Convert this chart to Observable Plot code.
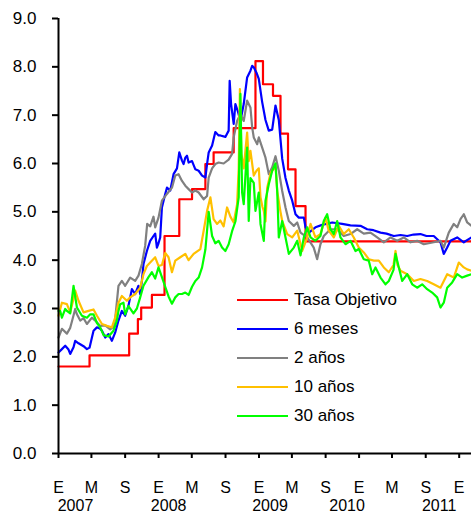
<!DOCTYPE html>
<html><head><meta charset="utf-8">
<script src="https://cdn.jsdelivr.net/npm/d3@7"></script>
<script src="https://cdn.jsdelivr.net/npm/@observablehq/plot@0.6"></script>
<style>
body{margin:0;background:#fff}
#wrap{position:relative;width:471px;height:513px;font-family:'Liberation Sans',Arial,sans-serif}
.row{position:absolute;left:237px;height:20px;display:flex;align-items:center;font-size:17px;color:#000;white-space:nowrap}
.sw{display:inline-block;width:51px;height:2px;margin-right:6px}
</style></head>
<body><div id="wrap"></div>
<script>
// decimal year, value
const tasaObjetivo = [[2007.000,1.80],[2007.310,2.03],[2007.706,2.48],[2007.793,2.78],[2007.826,3.02],[2007.933,3.28],[2008.059,4.50],[2008.206,5.26],[2008.333,5.47],[2008.466,5.99],[2008.548,6.23],[2008.748,6.73],[2008.965,8.12],[2009.040,7.64],[2009.140,7.40],[2009.215,6.62],[2009.290,5.88],[2009.365,5.12],[2009.465,4.39],[2011.123,4.39]];
const seisMeses = [[2007.000,2.09],[2007.034,2.16],[2007.067,2.23],[2007.100,2.15],[2007.117,2.06],[2007.150,2.20],[2007.167,2.33],[2007.200,2.28],[2007.217,2.26],[2007.250,2.22],[2007.284,2.16],[2007.310,2.19],[2007.334,2.40],[2007.350,2.54],[2007.384,2.61],[2007.417,2.58],[2007.434,2.54],[2007.467,2.40],[2007.500,2.47],[2007.533,2.33],[2007.566,2.50],[2007.599,2.75],[2007.633,2.95],[2007.666,2.85],[2007.699,3.06],[2007.733,3.40],[2007.766,3.30],[2007.799,3.47],[2007.816,3.30],[2007.833,3.57],[2007.849,3.92],[2007.883,4.19],[2007.916,4.40],[2007.949,4.50],[2007.966,4.55],[2007.983,4.26],[2007.999,4.35],[2008.016,4.47],[2008.033,5.09],[2008.066,5.37],[2008.083,5.50],[2008.116,5.44],[2008.149,5.78],[2008.183,5.90],[2008.206,6.23],[2008.233,6.06],[2008.249,5.99],[2008.266,6.12],[2008.283,6.16],[2008.299,6.02],[2008.333,6.05],[2008.366,5.88],[2008.399,5.85],[2008.433,5.75],[2008.466,5.71],[2008.483,5.99],[2008.499,6.23],[2008.533,6.37],[2008.565,6.65],[2008.598,6.58],[2008.615,6.58],[2008.665,6.55],[2008.698,6.68],[2008.708,7.71],[2008.722,7.23],[2008.748,6.82],[2008.765,7.23],[2008.788,7.09],[2008.815,6.88],[2008.848,7.23],[2008.882,7.78],[2008.915,7.92],[2008.932,8.02],[2008.948,7.99],[2008.975,7.88],[2008.998,7.75],[2009.032,7.27],[2009.065,6.90],[2009.098,6.68],[2009.132,6.70],[2009.165,7.20],[2009.198,6.90],[2009.232,6.10],[2009.265,5.70],[2009.298,5.44],[2009.332,5.23],[2009.365,4.95],[2009.398,4.88],[2009.448,4.88],[2009.465,4.68],[2009.498,4.57],[2009.564,4.68],[2009.631,4.73],[2009.731,4.78],[2009.831,4.75],[2009.914,4.72],[2010.014,4.71],[2010.081,4.64],[2010.144,4.62],[2010.214,4.57],[2010.274,4.55],[2010.347,4.50],[2010.414,4.52],[2010.481,4.50],[2010.544,4.53],[2010.613,4.54],[2010.673,4.50],[2010.746,4.50],[2010.813,4.37],[2010.846,4.13],[2010.880,4.26],[2010.913,4.40],[2010.980,4.47],[2011.046,4.37],[2011.083,4.42],[2011.123,4.47]];
const dosAnios = [[2007.000,2.40],[2007.034,2.58],[2007.084,2.48],[2007.117,2.60],[2007.134,2.73],[2007.167,2.99],[2007.184,2.88],[2007.217,2.75],[2007.250,2.80],[2007.284,2.68],[2007.334,2.81],[2007.367,2.75],[2007.417,2.64],[2007.467,2.65],[2007.516,2.57],[2007.549,2.62],[2007.566,2.78],[2007.599,3.47],[2007.633,3.57],[2007.666,3.47],[2007.716,3.64],[2007.766,3.57],[2007.799,3.68],[2007.833,3.92],[2007.866,4.30],[2007.886,4.75],[2007.916,4.70],[2007.949,4.90],[2007.966,4.68],[2007.999,4.88],[2008.033,5.23],[2008.083,5.37],[2008.133,5.50],[2008.166,5.75],[2008.199,5.78],[2008.233,5.64],[2008.266,5.54],[2008.299,5.47],[2008.333,5.40],[2008.366,5.44],[2008.399,5.40],[2008.449,5.26],[2008.483,5.33],[2008.499,5.71],[2008.533,5.90],[2008.565,5.99],[2008.598,6.02],[2008.648,6.00],[2008.698,6.08],[2008.732,6.20],[2008.748,6.54],[2008.782,6.88],[2008.815,7.02],[2008.848,6.88],[2008.882,7.30],[2008.915,7.16],[2008.932,6.75],[2008.948,6.54],[2008.982,6.40],[2008.998,6.54],[2009.032,6.33],[2009.065,6.12],[2009.098,5.78],[2009.132,5.92],[2009.165,6.15],[2009.198,5.85],[2009.232,5.43],[2009.265,5.09],[2009.298,4.81],[2009.348,4.71],[2009.382,4.78],[2009.415,4.57],[2009.482,4.47],[2009.547,4.26],[2009.581,4.02],[2009.614,4.33],[2009.647,4.50],[2009.714,4.64],[2009.781,4.64],[2009.847,4.50],[2009.914,4.54],[2009.981,4.64],[2010.047,4.55],[2010.114,4.57],[2010.181,4.47],[2010.247,4.37],[2010.314,4.47],[2010.381,4.40],[2010.447,4.47],[2010.514,4.37],[2010.580,4.40],[2010.646,4.33],[2010.746,4.37],[2010.813,4.40],[2010.846,4.26],[2010.896,4.57],[2010.946,4.75],[2010.980,4.68],[2011.013,4.85],[2011.046,4.95],[2011.080,4.78],[2011.123,4.71]];
const diezAnios = [[2007.000,2.85],[2007.034,3.12],[2007.084,3.09],[2007.117,2.92],[2007.150,3.20],[2007.167,3.37],[2007.200,3.16],[2007.250,2.92],[2007.300,2.95],[2007.350,2.98],[2007.384,2.85],[2007.434,2.68],[2007.484,2.64],[2007.533,2.61],[2007.566,2.81],[2007.599,3.12],[2007.633,3.26],[2007.683,3.16],[2007.716,3.23],[2007.766,3.30],[2007.816,3.43],[2007.849,3.71],[2007.883,3.88],[2007.916,3.95],[2007.966,4.06],[2007.999,3.88],[2008.033,3.90],[2008.066,4.15],[2008.099,4.06],[2008.133,3.75],[2008.166,3.99],[2008.216,4.06],[2008.266,4.13],[2008.299,4.00],[2008.349,4.13],[2008.416,4.23],[2008.449,4.61],[2008.483,5.02],[2008.516,5.30],[2008.548,4.85],[2008.582,4.75],[2008.615,4.82],[2008.648,4.70],[2008.682,5.09],[2008.715,4.90],[2008.748,4.78],[2008.782,5.16],[2008.798,5.90],[2008.810,7.54],[2008.825,6.20],[2008.848,5.90],[2008.882,6.64],[2008.898,6.05],[2008.915,6.26],[2008.948,5.75],[2008.975,5.85],[2008.998,5.90],[2009.015,5.30],[2009.035,5.10],[2009.048,5.02],[2009.065,4.80],[2009.082,5.50],[2009.115,5.80],[2009.132,5.85],[2009.165,5.95],[2009.182,5.43],[2009.215,5.00],[2009.232,4.81],[2009.282,4.54],[2009.332,4.47],[2009.382,4.61],[2009.432,4.19],[2009.482,4.47],[2009.515,4.75],[2009.564,4.47],[2009.614,4.54],[2009.664,4.88],[2009.697,4.61],[2009.747,4.47],[2009.797,4.71],[2009.847,4.54],[2009.897,4.64],[2009.947,4.47],[2009.997,4.26],[2010.047,4.16],[2010.097,4.02],[2010.147,3.99],[2010.197,3.99],[2010.247,3.85],[2010.297,3.75],[2010.344,3.90],[2010.364,4.19],[2010.384,3.90],[2010.414,3.78],[2010.481,3.71],[2010.547,3.57],[2010.613,3.61],[2010.680,3.57],[2010.746,3.50],[2010.813,3.43],[2010.880,3.71],[2010.946,3.64],[2010.996,3.95],[2011.046,3.85],[2011.080,3.81],[2011.123,3.78]];
const treintaAnios = [[2007.000,2.95],[2007.017,2.95],[2007.034,2.81],[2007.067,2.99],[2007.084,2.95],[2007.117,2.90],[2007.150,3.47],[2007.184,3.02],[2007.234,2.85],[2007.284,2.81],[2007.317,2.88],[2007.350,2.88],[2007.384,2.70],[2007.417,2.61],[2007.450,2.45],[2007.500,2.42],[2007.549,2.54],[2007.583,2.75],[2007.599,2.95],[2007.616,3.09],[2007.649,3.12],[2007.666,2.88],[2007.699,3.05],[2007.749,2.90],[2007.783,3.00],[2007.816,3.23],[2007.849,3.47],[2007.899,3.65],[2007.933,3.75],[2007.966,3.62],[2007.999,3.85],[2008.033,3.65],[2008.066,3.45],[2008.099,3.25],[2008.133,3.10],[2008.166,3.23],[2008.199,3.30],[2008.233,3.30],[2008.266,3.33],[2008.299,3.28],[2008.333,3.45],[2008.366,3.57],[2008.399,3.64],[2008.433,3.85],[2008.466,4.22],[2008.499,5.00],[2008.533,4.50],[2008.565,4.35],[2008.598,4.40],[2008.632,4.26],[2008.665,4.19],[2008.698,4.33],[2008.732,4.60],[2008.765,4.80],[2008.798,5.30],[2008.815,7.44],[2008.832,5.40],[2008.848,5.16],[2008.882,6.33],[2008.898,4.81],[2008.915,5.70],[2008.948,5.60],[2008.965,5.02],[2008.998,5.40],[2009.015,4.75],[2009.048,4.40],[2009.065,5.23],[2009.098,5.57],[2009.132,5.85],[2009.165,6.00],[2009.182,5.43],[2009.198,4.47],[2009.232,4.81],[2009.265,4.47],[2009.298,4.13],[2009.348,4.26],[2009.382,4.40],[2009.415,4.10],[2009.448,4.47],[2009.482,4.68],[2009.515,4.47],[2009.564,4.40],[2009.614,4.50],[2009.647,4.81],[2009.681,4.95],[2009.714,4.64],[2009.747,4.54],[2009.781,4.81],[2009.814,4.47],[2009.864,4.33],[2009.914,4.40],[2009.964,4.19],[2009.997,4.23],[2010.047,4.02],[2010.097,3.99],[2010.131,3.71],[2010.164,3.85],[2010.214,3.64],[2010.264,3.50],[2010.297,3.57],[2010.344,3.80],[2010.364,4.13],[2010.397,3.85],[2010.431,3.57],[2010.481,3.71],[2010.531,3.50],[2010.580,3.43],[2010.630,3.50],[2010.680,3.40],[2010.730,3.33],[2010.780,3.23],[2010.813,3.02],[2010.846,3.12],[2010.880,3.43],[2010.930,3.54],[2010.980,3.71],[2011.030,3.64],[2011.080,3.68],[2011.123,3.71]];

const seriesNames = ["Tasa Objetivo","6 meses","2 años","10 años","30 años"];
const seriesColors = ["#ff0000","#0000ff","#808080","#ffc000","#00ff00"];
const yTicks = [0,1,2,3,4,5,6,7,8,9];
const monthLetters = {0:"E",4:"M",8:"S"};
const yearLabels = ["2007","2008","2009","2010","2011"];
const yearLabelPos = [2007.17, 2008.10, 2009.11, 2009.88, 2010.80];
const xStart = 2007.0, xEnd = 2011.123;

const toDate = t => { const y = Math.floor(t), f = t - y; const s = Date.UTC(y,0,1), e = Date.UTC(y+1,0,1); return new Date(s + f*(e-s)); };
const rows = (arr) => arr.map(([t,v]) => ({date: toDate(t), value: v}));
const allSeries = [tasaObjetivo, seisMeses, dosAnios, diezAnios, treintaAnios].map(rows);
const years = yearLabels.map((l,i) => ({label: l, date: toDate(yearLabelPos[i])}));
const xTicks = d3.utcMonth.every(4).range(toDate(xStart), toDate(xEnd));

const chart = Plot.plot({
  width: 471, height: 513,
  marginLeft: 58, marginRight: 0, marginTop: 18, marginBottom: 60,
  x: {type: "utc", domain: [toDate(xStart), toDate(xEnd)], label: null},
  y: {domain: [0, 9], label: null},
  style: {fontFamily: "'Liberation Sans', Arial, sans-serif", fontSize: "16px", color: "#000", background: "#fff", overflow: "visible"},
  marks: [
    Plot.line(allSeries[0], {x: "date", y: "value", stroke: seriesColors[0], strokeWidth: 2.2, curve: "step-after"}),
    Plot.line(allSeries[1], {x: "date", y: "value", stroke: seriesColors[1], strokeWidth: 2.2}),
    Plot.line(allSeries[2], {x: "date", y: "value", stroke: seriesColors[2], strokeWidth: 2.2}),
    Plot.line(allSeries[3], {x: "date", y: "value", stroke: seriesColors[3], strokeWidth: 2.2}),
    Plot.line(allSeries[4], {x: "date", y: "value", stroke: seriesColors[4], strokeWidth: 2.2}),
    Plot.ruleY([0], {stroke: "#000", strokeWidth: 2}),
    Plot.ruleX([toDate(xStart)], {y1: 0, y2: 9, stroke: "#000", strokeWidth: 2}),
    Plot.axisY({ticks: yTicks, tickFormat: d => d.toFixed(1), tickSize: 6, tickPadding: 16, strokeWidth: 2, fontSize: 17, label: null}),
    Plot.axisX({ticks: xTicks, tickFormat: d => monthLetters[d.getUTCMonth()] ?? "", tickSize: 5, tickPadding: 23, strokeWidth: 2, fontSize: 16, label: null}),
    Plot.text(years, {x: "date", text: "label", frameAnchor: "bottom", dy: 52, lineAnchor: "middle", fontSize: 16})
  ]
});
const wrap = document.getElementById("wrap");
wrap.appendChild(chart);
seriesNames.forEach((n,i) => {
  const r = document.createElement("div");
  r.className = "row";
  r.style.top = (300 + i*29.1 - 10) + "px";
  const s = document.createElement("span"); s.className = "sw"; s.style.background = seriesColors[i];
  r.appendChild(s); r.appendChild(document.createTextNode(n));
  wrap.appendChild(r);
});
</script></body></html>
